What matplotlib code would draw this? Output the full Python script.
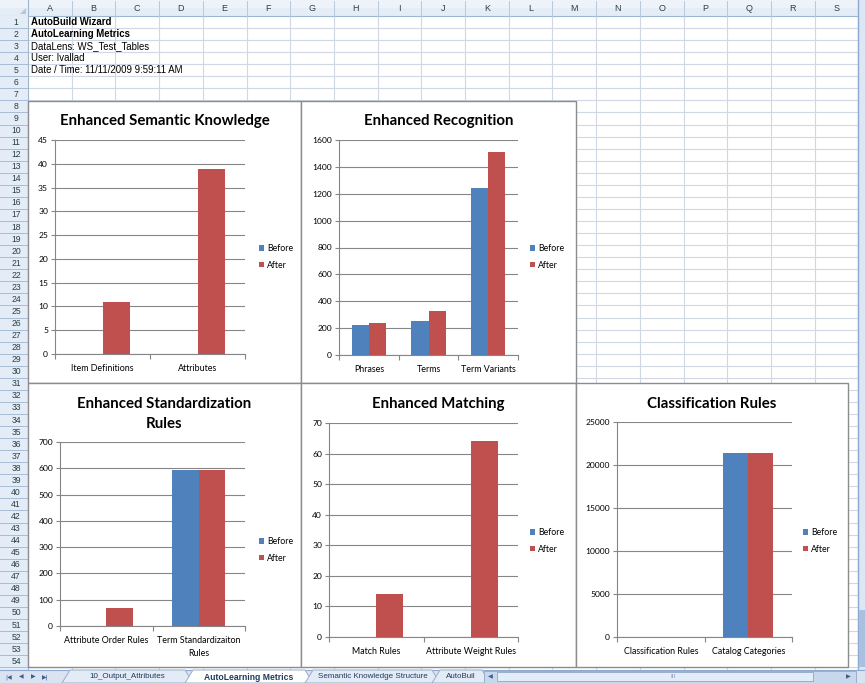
import matplotlib
matplotlib.use("Agg")
import matplotlib.pyplot as plt
from matplotlib.patches import Rectangle, Polygon
import numpy as np

plt.rcParams['font.family'] = ['Lato', 'DejaVu Sans']

# worksheet text
info_lines = ["AutoBuild Wizard", "AutoLearning Metrics", "DataLens: WS_Test_Tables",
              "User: Ivallad", "Date / Time: 11/11/2009 9:59:11 AM"]
col_letters = list("ABCDEFGHIJKLMNOPQRS")
sheet_tabs = ["10_Output_Attributes", "AutoLearning Metrics",
              "Semantic Knowledge Structure", "AutoBuil"]

# chart data
sem_cats = ["Item Definitions", "Attributes"]
sem_before = [0, 0]
sem_after = [11, 39]

rec_cats = ["Phrases", "Terms", "Term Variants"]
rec_before = [220, 250, 1245]
rec_after = [240, 330, 1513]

std_cats = ["Attribute Order Rules", "Term Standardizaiton\nRules"]
std_before = [0, 595]
std_after = [70, 595]

match_cats = ["Match Rules", "Attribute Weight Rules"]
match_before = [0, 0]
match_after = [14, 64]

cls_cats = ["Classification Rules", "Catalog Categories"]
cls_before = [0, 21400]
cls_after = [0, 21400]

W, H = 865, 683
BLUE, RED = "#4F81BD", "#C0504D"
GRID = "#868686"
HDR_TXT = "#27413E"
SHEET_FONT = "Liberation Sans"

COL0, COLW = 28, 43.7
ROW0, ROWH = 16, 12.06
CELL_R = 858
SHEET_B = 670

fig = plt.figure(figsize=(W / 100, H / 100), dpi=100)
bg = fig.add_axes([0, 0, 1, 1])
bg.set_xlim(0, W)
bg.set_ylim(H, 0)
bg.axis("off")

# cell grid
for k in range(1, 20):
    x = COL0 + k * COLW
    bg.plot([x, x], [ROW0, SHEET_B], color="#D0D7E5", lw=0.8, zorder=1)
for k in range(1, 56):
    y = ROW0 + k * ROWH
    bg.plot([COL0, CELL_R], [y, y], color="#D0D7E5", lw=0.8, zorder=1)

# column header
bg.add_patch(Rectangle((0, 0), CELL_R, ROW0, fc="#E4ECF7", ec="none", zorder=2))
bg.add_patch(Rectangle((0, 0), CELL_R, ROW0 * 0.5, fc="#EEF3FA", ec="none", zorder=2))
bg.plot([0, CELL_R], [ROW0, ROW0], color="#9EB6CE", lw=0.8, zorder=2)
for k, letter in enumerate(col_letters):
    x = COL0 + k * COLW
    bg.plot([x, x], [1, ROW0], color="#B8C8DD", lw=0.7, zorder=2)
    bg.text(x + COLW / 2, ROW0 / 2 + 0.5, letter, ha="center", va="center",
            fontsize=6.5, color=HDR_TXT, family=SHEET_FONT, zorder=2)

# row header
bg.add_patch(Rectangle((0, ROW0), COL0, SHEET_B - ROW0, fc="#E4ECF7", ec="none", zorder=2))
bg.plot([COL0, COL0], [0, SHEET_B], color="#9EB6CE", lw=0.8, zorder=2)
for r in range(1, 56):
    y = ROW0 + r * ROWH
    bg.plot([0, COL0], [y, y], color="#9EB6CE", lw=0.6, zorder=2)
    if r <= 54:
        bg.text(16, y - ROWH / 2, str(r), ha="center", va="center",
                fontsize=6.2, color=HDR_TXT, family=SHEET_FONT, zorder=2)
bg.add_patch(Polygon([[20, 14], [26, 14], [26, 8]], closed=True, fc="#B6C6DA", ec="none", zorder=2))

# info cells
for i, line in enumerate(info_lines):
    bg.text(31, ROW0 + (i + 0.5) * ROWH, line, ha="left", va="center",
            fontsize=6.9, family=SHEET_FONT,
            fontweight="bold" if i < 2 else "normal", zorder=2)

# vertical scrollbar
bg.add_patch(Rectangle((CELL_R, 0), W - CELL_R, SHEET_B, fc="#DCE6F4", ec="none", zorder=2))
bg.plot([CELL_R, CELL_R], [0, SHEET_B], color="#8DA9CF", lw=1.0, zorder=2)
bg.add_patch(Rectangle((CELL_R + 1, 610), W - CELL_R, 57, fc="#A9C0E0", ec="none", zorder=2))


def draw_chart(box, plot, title_lines, title_y, cats, before, after, ymax, ystep, leg_x, leg_y):
    x0, y0, x1, y1 = box
    bg.add_patch(Rectangle((x0, y0), x1 - x0, y1 - y0, fc="white", ec="#8C8C8C", lw=1.0, zorder=3))
    l, t, r, b = plot
    ax = fig.add_axes([l / W, 1 - b / H, (r - l) / W, (b - t) / H])
    ax.set_facecolor("none")
    n = len(cats)
    centers = np.arange(n) + 0.5
    w = 1 / 3.5
    ax.bar(centers - w, before, width=w, align="edge", color=BLUE, label="Before", zorder=3)
    ax.bar(centers, after, width=w, align="edge", color=RED, label="After", zorder=3)
    ax.set_xlim(0, n)
    ax.set_ylim(0, ymax)
    ax.set_yticks(np.arange(0, ymax + ystep / 2, ystep))
    ax.yaxis.grid(True, color=GRID, lw=0.8)
    ax.set_axisbelow(True)
    for s in ("top", "right"):
        ax.spines[s].set_visible(False)
    for s in ("left", "bottom"):
        ax.spines[s].set_color(GRID)
        ax.spines[s].set_linewidth(0.8)
    ax.set_xticks(np.arange(n + 1))
    ax.set_xticklabels([])
    ax.set_xticks(centers, minor=True)
    ax.set_xticklabels(cats, minor=True, fontsize=6.4, linespacing=1.45)
    ax.tick_params(axis="x", which="major", direction="out", length=3.5, color=GRID, width=0.8)
    ax.tick_params(axis="x", which="minor", length=0, pad=7.5)
    ax.tick_params(axis="y", direction="out", length=3, color=GRID, width=0.8,
                   labelsize=6.1, pad=2)
    ax.legend(loc="center left", bbox_to_anchor=(leg_x / W, 1 - leg_y / H),
              bbox_transform=fig.transFigure, frameon=False, fontsize=6.3,
              handlelength=0.6, handleheight=0.6, handletextpad=0.35,
              labelspacing=0.85, borderpad=0, borderaxespad=0)
    for i, line in enumerate(title_lines):
        fig.text((x0 + x1) / 2 / W, 1 - (title_y + i * 20) / H, line, ha="center",
                 va="center", fontsize=10.8, fontweight="bold")
    return ax


draw_chart((28, 101, 301, 383), (55, 140, 245, 354), ["Enhanced Semantic Knowledge"], 121,
           sem_cats, sem_before, sem_after, 45, 5, 259, 257)
draw_chart((301, 101, 576, 383), (339, 140, 518, 355), ["Enhanced Recognition"], 121,
           rec_cats, rec_before, rec_after, 1600, 200, 530, 257)
draw_chart((28, 383, 301, 667), (60, 442, 245, 626), ["Enhanced Standardization", "Rules"], 404,
           std_cats, std_before, std_after, 700, 100, 259, 550)
draw_chart((301, 383, 576, 667), (329, 423, 518, 637), ["Enhanced Matching"], 404,
           match_cats, match_before, match_after, 70, 10, 530, 541)
draw_chart((576, 383, 848, 667), (617, 422, 792, 637), ["Classification Rules"], 404,
           cls_cats, cls_before, cls_after, 25000, 5000, 803, 541)

# sheet tab bar
bg.add_patch(Rectangle((0, SHEET_B), W, H - SHEET_B, fc="#D9E3F1", ec="none", zorder=10))
bg.plot([0, W], [SHEET_B, SHEET_B], color="#8DA9CF", lw=0.8, zorder=11)
for xg, g in zip([9, 21, 33, 45], ["|\u25C0", "\u25C0", "\u25B6", "\u25B6|"]):
    bg.text(xg, 677, g, ha="center", va="center", fontsize=4.3, color="#3F5E8C",
            family="DejaVu Sans", zorder=11)
tab_edges = [62, 185, 305, 432, 482]
for i, name in enumerate(sheet_tabs):
    a, b = tab_edges[i], tab_edges[i + 1]
    active = (i == 1)
    fc = "white" if active else "#E3EBF6"
    bg.add_patch(Polygon([[a, H], [a + 8, SHEET_B], [b, SHEET_B], [b + 8, H]],
                         closed=True, fc=fc, ec="#9AAFCB", lw=0.7, zorder=11))
    bg.text((a + b) / 2 + 4, 677, name, ha="center", va="center",
            fontsize=6.2 if active else 5.8,
            family=SHEET_FONT, fontweight="bold" if active else "normal",
            color="#1F3A60", zorder=12, clip_on=True)
# horizontal scrollbar
bg.add_patch(Rectangle((484, SHEET_B + 1), 372, H - SHEET_B - 1, fc="#C7D7EC", ec="#9AAFCB",
                       lw=0.7, zorder=13))
bg.add_patch(Rectangle((497, SHEET_B + 2), 316, H - SHEET_B - 4, fc="#E3ECF8", ec="#9AAFCB",
                       lw=0.7, zorder=14))
bg.text(490, 677, "\u25C0", ha="center", va="center", fontsize=4.5, color="#3F5E8C",
        family="DejaVu Sans", zorder=14)
bg.text(848, 677, "\u25B6", ha="center", va="center", fontsize=4.5, color="#3F5E8C",
        family="DejaVu Sans", zorder=14)
bg.text(673, 677, "III", ha="center", va="center", fontsize=4.5, color="#7D93B3",
        family=SHEET_FONT, zorder=14)

fig.savefig("out.png", dpi=100)
